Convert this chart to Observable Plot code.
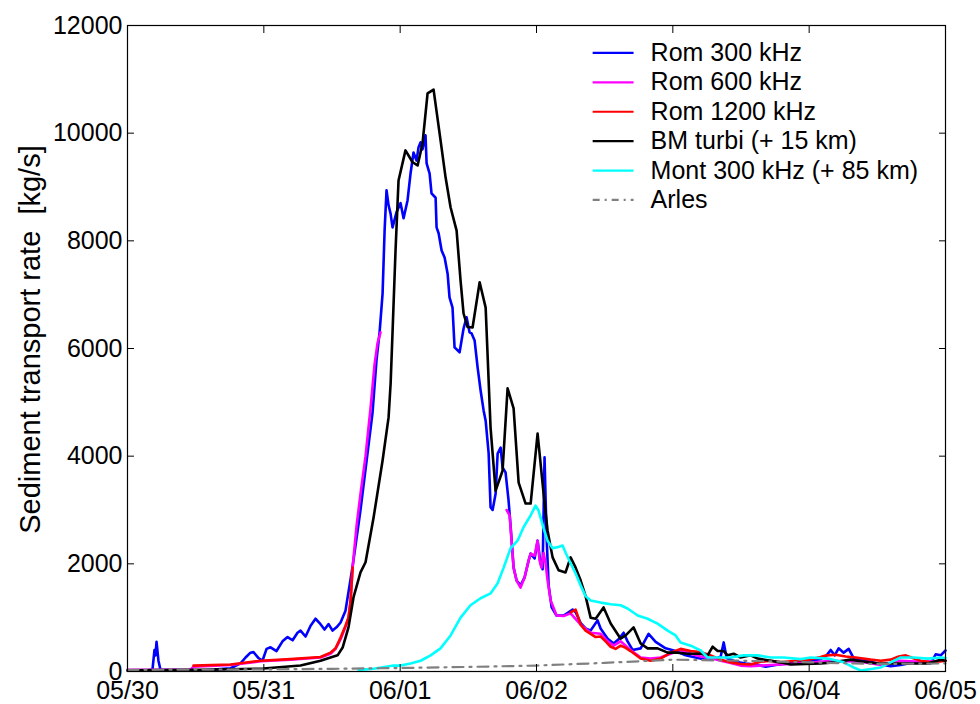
<!DOCTYPE html>
<html>
<head>
<meta charset="utf-8">
<script src="https://cdn.jsdelivr.net/npm/d3@7"></script>
<script src="https://cdn.jsdelivr.net/npm/@observablehq/plot@0.6"></script>
<style>
  html, body { margin: 0; padding: 0; background: #fff; }
  #chart { width: 980px; height: 704px; }
</style>
</head>
<body>
<div id="chart"></div>
<script>
// ---- Tick labels ----
const dayTicks = [0, 1, 2, 3, 4, 5, 6];
const dayLabels = ["05/30", "05/31", "06/01", "06/02", "06/03", "06/04", "06/05"];
const yTicks = [0, 2000, 4000, 6000, 8000, 10000, 12000];
const yLabel = "Sediment transport rate\u00a0 [kg/s]";

// ---- Series names ----
const seriesNames = ["Rom 300 kHz", "Rom 600 kHz", "Rom 1200 kHz", "BM turbi (+ 15 km)", "Mont 300 kHz (+ 85 km)", "Arles"];

// ---- Series values: [days since 05/30 00:00, kg/s]; null = gap ----
const rom300 = [[0,20],[0.132,20],[0.183,30],[0.198,400],[0.205,300],[0.213,550],[0.227,200],[0.242,30],[0.536,20],[0.756,60],[0.829,150],[0.866,260],[0.902,350],[0.924,360],[0.961,250],[0.990,200],[1.020,420],[1.049,450],[1.093,380],[1.137,560],[1.174,640],[1.211,580],[1.247,720],[1.269,760],[1.306,650],[1.343,850],[1.379,980],[1.409,900],[1.445,780],[1.475,880],[1.504,760],[1.533,820],[1.563,910],[1.599,1130],[1.651,1950],[1.709,3000],[1.753,3900],[1.797,4800],[1.827,5800],[1.849,6300],[1.871,7020],[1.886,8200],[1.900,8940],[1.915,8660],[1.930,8500],[1.944,8250],[1.973,8530],[2.003,8700],[2.025,8420],[2.054,8750],[2.076,9250],[2.098,9640],[2.120,9490],[2.135,9740],[2.150,9830],[2.164,9700],[2.186,9960],[2.194,9440],[2.216,9250],[2.230,8880],[2.260,8800],[2.267,8250],[2.282,8140],[2.304,7820],[2.326,7690],[2.348,7390],[2.362,6950],[2.384,6760],[2.399,6020],[2.436,5930],[2.465,6370],[2.487,6580],[2.509,6300],[2.524,6280],[2.546,6150],[2.568,5650],[2.590,5220],[2.612,4850],[2.627,4660],[2.649,4050],[2.663,3050],[2.678,3000],[2.700,3300],[2.715,4050],[2.737,4160],[2.751,3790],[2.773,3700],[2.795,3180],[2.810,2700],[2.832,1930],[2.854,1690],[2.883,1600],[2.913,1750],[2.942,2060],[2.957,2190],[2.986,2100],[3.008,2430],[3.030,2000],[3.045,1900],[3.059,3980],[3.074,2500],[3.089,1600],[3.111,1190],[3.147,1040],[3.199,1040],[3.235,1100],[3.265,1150],[3.287,1100],[3.324,900],[3.360,800],[3.397,760],[3.448,950],[3.470,800],[3.522,610],[3.566,520],[3.602,600],[3.639,720],[3.668,560],[3.705,400],[3.764,430],[3.822,700],[3.874,550],[3.947,430],[4.020,380],[4.094,300],[4.167,260],[4.241,220],[4.314,240],[4.351,280],[4.373,540],[4.395,250],[4.461,180],[4.534,150],[4.607,130],[4.681,90],[4.754,120],[4.864,160],[4.938,180],[5.011,200],[5.084,230],[5.128,300],[5.158,400],[5.187,300],[5.216,430],[5.253,350],[5.290,420],[5.326,250],[5.378,220],[5.451,180],[5.525,130],[5.598,100],[5.671,120],[5.745,160],[5.818,180],[5.891,150],[5.928,320],[5.965,300],[6.0,390]];

const rom600 = [[0,30],[0.462,30],[0.484,90],[0.756,120],[0.976,190],[1.196,220],[1.416,260],[1.489,330],[1.526,420],[1.563,600],[1.599,830],[1.621,1000],[1.636,1300],[1.651,1930],[1.680,2700],[1.709,3300],[1.746,4000],[1.783,4900],[1.812,5700],[1.834,6100],[1.856,6300],[1.86,null],[2.781,3000],[2.803,2900],[2.832,1930],[2.854,1690],[2.883,1560],[2.913,1750],[2.942,2060],[2.957,2190],[2.986,2150],[3.008,2430],[3.023,2060],[3.037,1930],[3.052,2200],[3.067,2000],[3.081,1700],[3.104,1320],[3.147,1040],[3.199,1030],[3.250,1080],[3.324,870],[3.397,720],[3.470,700],[3.522,560],[3.566,480],[3.617,560],[3.654,480],[3.690,400],[3.764,260],[3.837,240],[3.910,260],[3.984,330],[4.057,400],[4.131,330],[4.204,280],[4.277,250],[4.351,200],[4.424,160],[4.497,110],[4.571,100],[4.717,120],[4.864,140],[4.996,160],[5.158,200],[5.378,180],[5.525,120],[5.671,200],[5.818,180],[6.0,200]];

const rom1200 = [[0.484,110],[0.756,130],[0.976,200],[1.196,230],[1.416,270],[1.489,350],[1.526,430],[1.563,630],[1.599,850],[1.621,1000],[1.636,1300],[1.651,1930],[1.66,null],[3.250,1100],[3.287,1150],[3.324,870],[3.360,760],[3.397,700],[3.434,640],[3.470,650],[3.507,560],[3.544,460],[3.580,420],[3.617,480],[3.654,440],[3.690,380],[3.764,240],[3.837,200],[3.910,240],[3.984,350],[4.057,420],[4.131,380],[4.204,360],[4.277,300],[4.351,220],[4.424,170],[4.497,140],[4.571,130],[4.644,180],[4.717,200],[4.791,170],[4.864,190],[4.996,220],[5.084,270],[5.128,300],[5.194,310],[5.268,280],[5.341,260],[5.451,220],[5.525,200],[5.598,220],[5.657,280],[5.708,300],[5.759,250],[5.818,200],[5.891,170],[6.0,200]];

const bmTurbi = [[0,20],[0.536,30],[0.998,55],[1.269,110],[1.416,200],[1.489,260],[1.541,300],[1.578,445],[1.621,820],[1.658,1380],[1.709,1840],[1.746,2030],[1.805,2860],[1.871,3920],[1.915,4720],[1.930,5350],[1.944,6300],[1.966,7820],[1.988,9120],[2.039,9680],[2.091,9460],[2.128,9400],[2.164,9810],[2.201,10740],[2.245,10810],[2.296,9870],[2.333,9180],[2.370,8620],[2.414,8190],[2.443,7260],[2.465,6650],[2.494,6400],[2.531,6390],[2.583,7230],[2.627,6760],[2.663,4530],[2.700,3360],[2.751,3730],[2.788,5260],[2.832,4890],[2.869,3510],[2.920,3120],[2.957,3120],[3.008,4420],[3.052,3310],[3.081,2620],[3.118,2120],[3.162,1880],[3.213,1840],[3.250,2120],[3.287,1930],[3.324,1690],[3.360,1400],[3.397,1000],[3.434,980],[3.492,1190],[3.544,890],[3.617,610],[3.654,670],[3.712,820],[3.764,520],[3.815,430],[3.888,430],[3.962,350],[4.035,350],[4.109,330],[4.204,330],[4.255,300],[4.292,460],[4.329,380],[4.373,380],[4.402,300],[4.446,330],[4.497,260],[4.571,300],[4.622,240],[4.717,200],[4.791,170],[4.864,130],[5.084,150],[5.180,170],[5.304,220],[5.378,190],[5.503,150],[5.620,150],[5.745,150],[5.869,150],[5.965,220],[6.0,200]];

const mont300 = [[1.695,30],[1.805,50],[1.952,110],[2.003,110],[2.076,150],[2.150,200],[2.223,300],[2.296,430],[2.370,670],[2.443,1000],[2.516,1230],[2.590,1360],[2.663,1450],[2.715,1640],[2.759,1930],[2.810,2290],[2.861,2430],[2.905,2680],[2.957,2900],[2.993,3080],[3.015,2990],[3.037,2800],[3.052,2660],[3.081,2430],[3.118,2290],[3.155,2310],[3.191,2340],[3.213,2210],[3.250,2010],[3.287,1820],[3.324,1600],[3.360,1400],[3.397,1320],[3.470,1280],[3.544,1250],[3.617,1230],[3.668,1170],[3.742,1040],[3.815,980],[3.888,890],[3.962,760],[4.020,670],[4.057,540],[4.131,480],[4.204,390],[4.255,260],[4.329,260],[4.424,260],[4.519,300],[4.622,300],[4.717,260],[4.813,260],[4.938,230],[5.011,260],[5.136,240],[5.253,170],[5.326,75],[5.378,20],[5.466,50],[5.525,75],[5.598,170],[5.671,260],[5.767,260],[5.869,240],[5.965,260],[6.0,250]];

const arles = [[0,30],[0.5,35],[1,40],[1.5,50],[2,65],[2.5,85],[3,110],[3.5,160],[4,220],[4.5,200],[5,170],[5.5,140],[6,150]];

// ---- Styles ----
const seriesData = [rom300, rom600, rom1200, bmTurbi, mont300, arles];
const seriesColors = ["#0000ff", "#ff00ff", "#ff0000", "#000000", "#00ffff", "#808080"];
const seriesDash = [null, null, null, null, null, "11,6,2,6"];
const FONT = 25;
const LABEL_FONT = 29;

const toRows = arr => arr.map(([t, v]) => ({t, v}));

const marks = [];
seriesData.forEach((arr, i) => {
  marks.push(Plot.line(toRows(arr), {
    x: "t", y: "v",
    stroke: seriesColors[i],
    strokeWidth: i === 5 ? 2.2 : 2.6,
    strokeDasharray: seriesDash[i],
    strokeLinejoin: "round",
    curve: "linear"
  }));
});

// Legend (inside the plot area, upper right), positioned in data units
const legX1 = 3.412, legX2 = 3.712, legXT = 3.837, legY0 = 11490, legDY = 546;
seriesNames.forEach((name, i) => {
  const y = legY0 - i * legDY;
  marks.push(Plot.link([{x1: legX1, x2: legX2, y}], {
    x1: "x1", x2: "x2", y1: "y", y2: "y",
    stroke: seriesColors[i], strokeWidth: 2.2,
    strokeDasharray: i === 5 ? "7,5,2,5" : null
  }));
  marks.push(Plot.text([{x: legXT, y, name}], {
    x: "x", y: "y", text: "name",
    textAnchor: "start", lineAnchor: "middle",
    fontSize: FONT, fill: "#000"
  }));
});

// Axes: labels outside, ticks inward on all four sides (box)
marks.push(
  Plot.axisX(dayTicks, {anchor: "bottom", tickSize: 0, tickPadding: 10, tickFormat: d => dayLabels[d], fontSize: FONT, label: null}),
  Plot.axisX(dayTicks, {anchor: "bottom", tickSize: -7, tickFormat: () => "", label: null}),
  Plot.axisX(dayTicks, {anchor: "top", tickSize: -7, tickFormat: () => "", label: null}),
  Plot.axisY(yTicks, {anchor: "left", tickSize: 0, tickPadding: 5, fontSize: FONT, label: null, tickFormat: d => String(d)}),
  Plot.axisY(yTicks, {anchor: "left", tickSize: -7, tickFormat: () => "", label: null}),
  Plot.axisY(yTicks, {anchor: "right", tickSize: -7, tickFormat: () => "", label: null}),
  Plot.frame({stroke: "#000", strokeWidth: 1.2}),
  Plot.text([yLabel], {frameAnchor: "left", rotate: -90, dx: -97, dy: -9, fontSize: LABEL_FONT, textAnchor: "middle", fill: "#000"})
);

const chart = Plot.plot({
  width: 980,
  height: 704,
  marginLeft: 127,
  marginRight: 35,
  marginTop: 25,
  marginBottom: 33,
  style: {fontFamily: '"Liberation Sans", Arial, Helvetica, sans-serif', background: "#fff", color: "#000"},
  x: {domain: [0, 6]},
  y: {domain: [0, 12000]},
  marks
});
document.getElementById("chart").appendChild(chart);
</script>
</body>
</html>
